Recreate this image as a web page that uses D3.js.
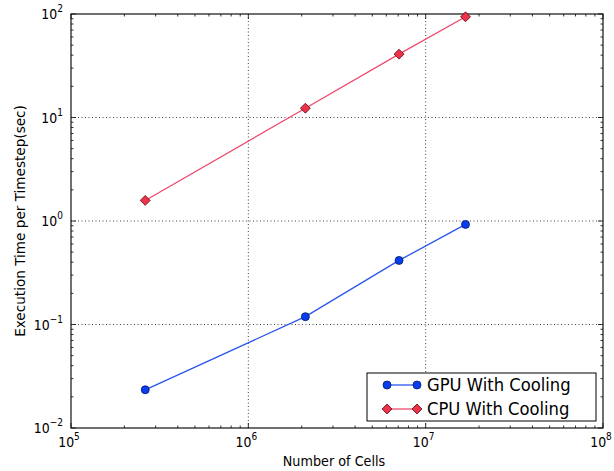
<!DOCTYPE html>
<html><head><meta charset="utf-8">
<script src="https://cdn.jsdelivr.net/npm/d3@7"></script>
<style>body{margin:0;background:#fff}svg{display:block}text{font-family:"DejaVu Sans",sans-serif;fill:#000}</style>
</head><body>
<svg id="c" width="614" height="471"></svg>
<script>
const cells = [262144, 2097152, 7077888, 16777216];
const gpuTime = [0.0234, 0.119, 0.416, 0.927];
const cpuTime = [1.58, 12.3, 40.9, 94];
const xTickExp = [5, 6, 7, 8];
const yTickExp = [-2, -1, 0, 1, 2];
const seriesNames = ["GPU With Cooling", "CPU With Cooling"];

const svg = d3.select("#c");
const L = 71, R = 603, T = 14, B = 428;
const x = d3.scaleLog().domain([1e5, 1e8]).range([L, R]);
const y = d3.scaleLog().domain([1e-2, 1e2]).range([B, T]);
const SY = 1.12;

// grid
const g = svg.append("g");
xTickExp.slice(1, -1).forEach(e => {
  g.append("line").attr("x1", x(10 ** e)).attr("x2", x(10 ** e)).attr("y1", T).attr("y2", B)
    .attr("stroke", "#444").attr("stroke-width", 1).attr("stroke-dasharray", "1,2.5");
});
yTickExp.slice(1, -1).forEach(e => {
  g.append("line").attr("y1", y(10 ** e)).attr("y2", y(10 ** e)).attr("x1", L).attr("x2", R)
    .attr("stroke", "#444").attr("stroke-width", 1).attr("stroke-dasharray", "1,2.5");
});

// ticks (inside, all four sides)
const tk = svg.append("g").attr("stroke", "#000").attr("stroke-width", 0.8);
const xMinor = [], yMinor = [];
for (let e = 5; e < 8; e++) for (let m = 2; m <= 9; m++) xMinor.push(m * 10 ** e);
for (let e = -2; e < 2; e++) for (let m = 2; m <= 9; m++) yMinor.push(m * 10 ** e);
xTickExp.forEach(e => {
  const px = x(10 ** e);
  tk.append("line").attr("x1", px).attr("x2", px).attr("y1", B).attr("y2", B - 5);
  tk.append("line").attr("x1", px).attr("x2", px).attr("y1", T).attr("y2", T + 5);
});
xMinor.forEach(v => {
  const px = x(v);
  tk.append("line").attr("x1", px).attr("x2", px).attr("y1", B).attr("y2", B - 2.5);
  tk.append("line").attr("x1", px).attr("x2", px).attr("y1", T).attr("y2", T + 2.5);
});
yTickExp.forEach(e => {
  const py = y(10 ** e);
  tk.append("line").attr("y1", py).attr("y2", py).attr("x1", L).attr("x2", L + 5);
  tk.append("line").attr("y1", py).attr("y2", py).attr("x1", R).attr("x2", R - 5);
});
yMinor.forEach(v => {
  const py = y(v);
  tk.append("line").attr("y1", py).attr("y2", py).attr("x1", L).attr("x2", L + 2.5);
  tk.append("line").attr("y1", py).attr("y2", py).attr("x1", R).attr("x2", R - 2.5);
});

// frame
svg.append("rect").attr("x", L).attr("y", T).attr("width", R - L).attr("height", B - T)
  .attr("fill", "none").attr("stroke", "#111").attr("stroke-width", 1.2);

function sup(sel, exp) {
  sel.append("tspan").text("10");
  sel.append("tspan").attr("font-size", 9).attr("dy", -6).text(exp < 0 ? "\u2212" + (-exp) : String(exp));
}
// x tick labels
xTickExp.forEach(e => {
  const t = svg.append("text").attr("transform", `translate(${x(10 ** e) - 2},${B + 19}) scale(1,${SY})`)
    .attr("text-anchor", "middle").attr("font-size", 12.5);
  sup(t, e);
});
// y tick labels
yTickExp.forEach(e => {
  const t = svg.append("text").attr("transform", `translate(${L - 8},${y(10 ** e) + 5}) scale(1,${SY})`)
    .attr("text-anchor", "end").attr("font-size", 12.5);
  sup(t, e);
});

// axis labels
svg.append("text").attr("transform", `translate(${(L + R) / 2 - 3},${466}) scale(1,${SY})`)
  .attr("text-anchor", "middle").attr("font-size", 12.8).text("Number of Cells");
svg.append("text").attr("transform", `translate(25,${(T + B) / 2}) rotate(-90)`)
  .attr("text-anchor", "middle").attr("font-size", 13.6).text("Execution Time per Timestep(sec)");

// series
const styles = [
  { data: gpuTime, line: "#2a55ee", fill: "#0a3cf0", marker: "circle" },
  { data: cpuTime, line: "#ee4a6e", fill: "#ee3348", marker: "diamond" }
];
const lineGen = d3.line().x(d => x(d[0])).y(d => y(d[1]));
function marker(sel, s, cx, cy) {
  if (s.marker === "circle") {
    sel.append("circle").attr("cx", cx).attr("cy", cy).attr("r", 4)
      .attr("fill", s.fill).attr("stroke", "#001a66").attr("stroke-width", 0.8);
  } else {
    sel.append("path").attr("d", d3.symbol(d3.symbolDiamond2, 62)())
      .attr("transform", `translate(${cx},${cy})`)
      .attr("fill", s.fill).attr("stroke", "#550010").attr("stroke-width", 0.8);
  }
}
styles.forEach(s => {
  const pts = cells.map((c, i) => [c, s.data[i]]);
  svg.append("path").attr("d", lineGen(pts)).attr("fill", "none").attr("stroke", s.line).attr("stroke-width", 1.3);
  const mg = svg.append("g");
  pts.forEach(p => marker(mg, s, x(p[0]), y(p[1])));
});

// legend
const lg = svg.append("g");
lg.append("rect").attr("x", 367).attr("y", 373).attr("width", 229).attr("height", 48)
  .attr("fill", "#fff").attr("stroke", "#000").attr("stroke-width", 1);
styles.forEach((s, i) => {
  const ry = 385 + i * 24;
  lg.append("line").attr("x1", 387).attr("x2", 417).attr("y1", ry).attr("y2", ry)
    .attr("stroke", s.line).attr("stroke-width", 1.3);
  marker(lg, s, 387, ry);
  marker(lg, s, 417, ry);
  lg.append("text").attr("transform", `translate(427,${ry + 6}) scale(1,${SY})`)
    .attr("font-size", 16.4).text(seriesNames[i]);
});
</script>
</body></html>
